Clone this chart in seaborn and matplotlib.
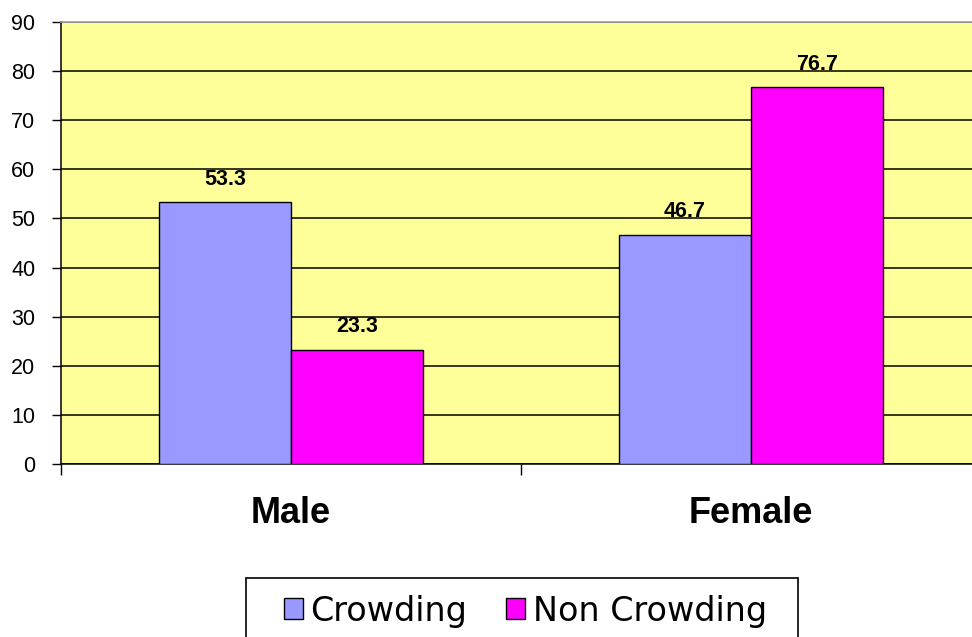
import matplotlib
matplotlib.use("Agg")
import matplotlib.pyplot as plt
from matplotlib.patches import Rectangle
from matplotlib.ticker import FixedLocator
import seaborn as sns
import pandas as pd

# ---- data ----
categories = ["Male", "Female"]
groups = ["Crowding", "Non Crowding"]
crowding = [53.3, 46.7]
non_crowding = [23.3, 76.7]
y_ticks = [0, 10, 20, 30, 40, 50, 60, 70, 80, 90]

colors = ["#9999FF", "#FF00FF"]

df = pd.DataFrame({
    "Gender": categories * 2,
    "Group": [groups[0]] * len(categories) + [groups[1]] * len(categories),
    "Value": crowding + non_crowding,
})

sns.set_theme(style="white")
plt.rcParams["font.family"] = ["Liberation Sans", "DejaVu Sans"]
plt.rcParams["text.color"] = "black"
plt.rcParams["xtick.color"] = "black"
plt.rcParams["ytick.color"] = "black"
plt.rcParams["axes.labelcolor"] = "black"

W, H = 972, 637
fig = plt.figure(figsize=(W / 100, H / 100), dpi=100)
ax = fig.add_axes([61 / W, 1 - 464 / H, 920 / W, 442 / H])
ax.set_facecolor("#FFFF99")

sns.barplot(data=df, x="Gender", y="Value", hue="Group", order=categories,
            hue_order=groups, palette=colors, width=0.574, gap=0,
            edgecolor="black", linewidth=1.0, saturation=1, ax=ax, zorder=3)

ax.set_ylim(0, 90)
ax.set_xlim(-0.5, 1.5)
ax.set_yticks(y_ticks)
ax.yaxis.grid(True, color="black", linewidth=1.1)
ax.xaxis.grid(False)
ax.set_axisbelow(True)
ax.set_xlabel("")
ax.set_ylabel("")

for c in ax.containers:
    ax.bar_label(c, fmt="%.1f", padding=9, fontsize=15.5, fontweight="bold",
                 color="black", zorder=4)

ax.tick_params(axis="y", which="major", direction="out", length=6.5, width=1,
               color="black", pad=12, labelsize=15.5, labelcolor="black", left=True)
ax.tick_params(axis="x", which="major", length=0, pad=23, labelsize=26,
               labelcolor="black")
for lab in ax.get_xticklabels():
    lab.set_fontweight("bold")
ax.xaxis.set_minor_locator(FixedLocator([-0.5, 0.5, 1.5]))
ax.tick_params(axis="x", which="minor", direction="out", length=8, width=1,
               color="black", bottom=True)

for s in ["left", "bottom"]:
    ax.spines[s].set_color("black")
    ax.spines[s].set_linewidth(1.1)
ax.spines["top"].set_color("#A0A0A0")
ax.spines["top"].set_linewidth(1.2)
ax.spines["right"].set_visible(False)

handles, labels = ax.get_legend_handles_labels()
if ax.get_legend() is not None:
    ax.get_legend().remove()
leg = fig.legend(handles, labels, loc="center",
                 bbox_to_anchor=(525.5 / W, 1 - 611 / H),
                 bbox_transform=fig.transFigure, ncol=2, frameon=False,
                 prop={"family": "DejaVu Sans", "size": 24},
                 handlelength=0.57, handleheight=0.57, handletextpad=0.24,
                 columnspacing=1.17, borderpad=0, borderaxespad=0,
                 labelcolor="black")
fig.patches.append(Rectangle((246 / W, 1 - 645 / H), (798 - 246) / W, 67 / H,
                             transform=fig.transFigure, fill=False,
                             edgecolor="black", linewidth=1.2))

fig.savefig("out.png", dpi=100, facecolor="white")
